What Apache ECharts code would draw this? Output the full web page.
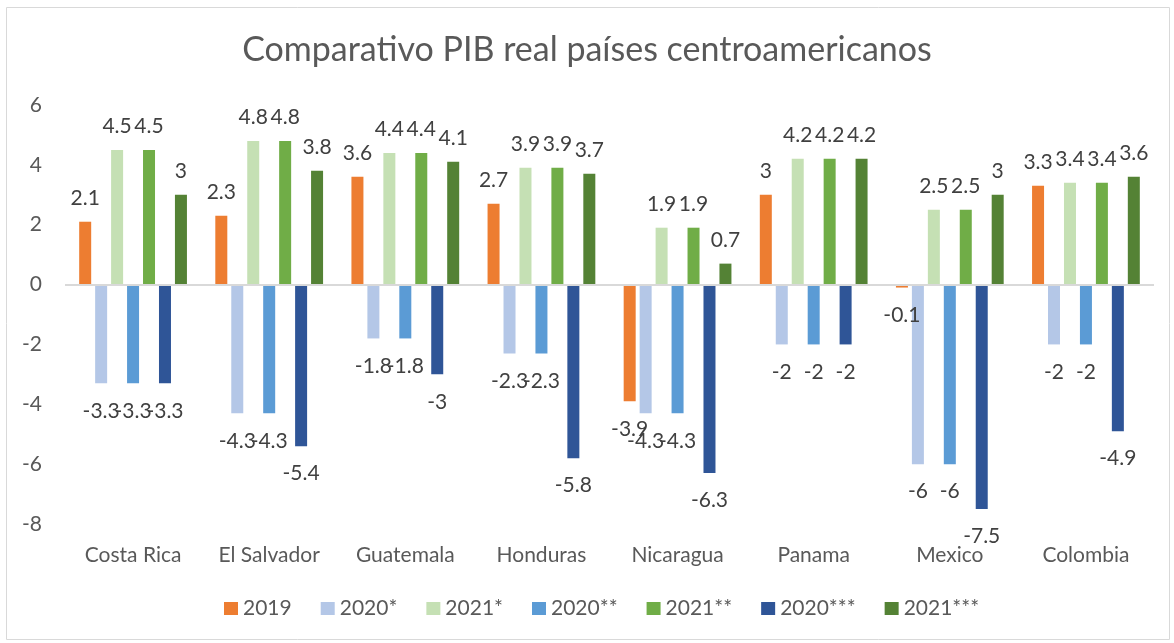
<!DOCTYPE html>
<html>
<head>
<meta charset="utf-8">
<script src="https://cdn.jsdelivr.net/npm/echarts@6/dist/echarts.min.js"></script>
<style>
  html, body { margin: 0; padding: 0; background: #fff; }
  #chart { width: 1174px; height: 643px; }
</style>
</head>
<body>
<div id="chart"></div>
<script>
const countries = ['Costa Rica', 'El Salvador', 'Guatemala', 'Honduras', 'Nicaragua', 'Panama', 'Mexico', 'Colombia']
const seriesNames = ['2019', '2020*', '2021*', '2020**', '2021**', '2020***', '2021***']

const v2019 = [2.1, 2.3, 3.6, 2.7, -3.9, 3, -0.1, 3.3]
const v2020a = [-3.3, -4.3, -1.8, -2.3, -4.3, -2, -6, -2]
const v2021a = [4.5, 4.8, 4.4, 3.9, 1.9, 4.2, 2.5, 3.4]
const v2020b = [-3.3, -4.3, -1.8, -2.3, -4.3, -2, -6, -2]
const v2021b = [4.5, 4.8, 4.4, 3.9, 1.9, 4.2, 2.5, 3.4]
const v2020c = [-3.3, -5.4, -3, -5.8, -6.3, -2, -7.5, -4.9]
const v2021c = [3, 3.8, 4.1, 3.7, 0.7, 4.2, 3, 3.6]

const yTicks = [-8, -6, -4, -2, 0, 2, 4, 6]

const colors = ['#ED7D31', '#B4C7E7', '#C5E0B4', '#5B9BD5', '#70AD47', '#2F5597', '#548235']
const allValues = [v2019, v2020a, v2021a, v2020b, v2021b, v2020c, v2021c]

const FONT = 'Lato, "Open Sans", sans-serif'

const chart = echarts.init(document.getElementById('chart'))

// Excel puts labels at the outside end of each bar
function withLabels(arr) {
  return arr.map(v => ({
    value: v,
    label: v < 0 ? { position: 'bottom', distance: 17 } : { position: 'top', distance: 13 }
  }))
}

const series = seriesNames.map((name, i) => ({
  name: name,
  type: 'bar',
  barWidth: 12,
  barGap: '33%',
  itemStyle: { color: colors[i] },
  label: {
    show: true,
    color: '#404040',
    fontSize: 21,
    fontFamily: FONT
  },
  data: withLabels(allValues[i])
}))

// zero line
series[0].markLine = {
  silent: true,
  symbol: 'none',
  label: { show: false },
  lineStyle: { color: '#D9D9D9', type: 'solid', width: 2 },
  data: [{ yAxis: 0 }]
}

const option = {
  animation: false,
  textStyle: { fontFamily: FONT },
  title: {
    text: 'Comparativo PIB real países centroamericanos',
    left: 'center',
    top: 28,
    textStyle: { color: '#595959', fontSize: 34, fontWeight: 'normal', fontFamily: FONT }
  },
  graphic: [{
    type: 'rect',
    shape: { x: 6.5, y: 7.5, width: 1163, height: 632 },
    style: { fill: 'none', stroke: '#D9D9D9', lineWidth: 1 },
    silent: true
  }],
  legend: {
    bottom: 19,
    left: 219,
    itemWidth: 14,
    itemHeight: 13,
    itemGap: 29,
    icon: 'rect',
    textStyle: { color: '#595959', fontSize: 21, fontFamily: FONT },
    data: seriesNames
  },
  grid: { left: 65, right: 20, top: 105, bottom: 119 },
  xAxis: {
    type: 'category',
    data: countries,
    axisLine: { show: false, onZero: false },
    axisTick: { show: false },
    axisLabel: { interval: 0, color: '#595959', fontSize: 21, margin: 21, fontFamily: FONT }
  },
  yAxis: {
    type: 'value',
    min: yTicks[0],
    max: yTicks[yTicks.length - 1],
    interval: 2,
    splitLine: { show: false },
    axisLine: { show: false },
    axisTick: { show: false },
    axisLabel: { color: '#595959', fontSize: 21, margin: 23, fontFamily: FONT }
  },
  series: series
}

chart.setOption(option)
</script>
</body>
</html>
